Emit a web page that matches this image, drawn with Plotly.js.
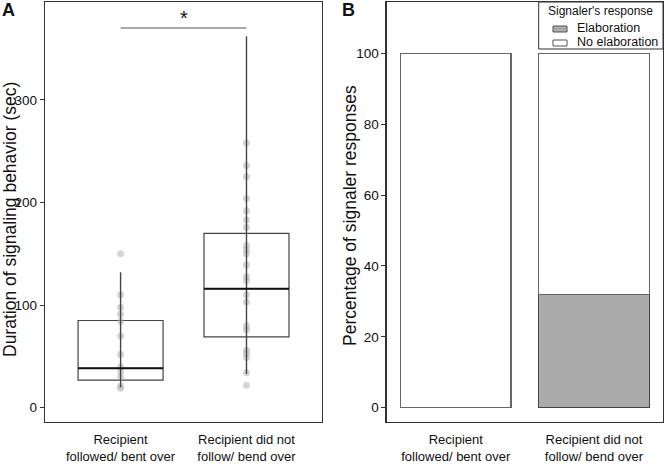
<!DOCTYPE html>
<html>
<head>
<meta charset="utf-8">
<script src="https://cdn.plot.ly/plotly-3.0.1.min.js"></script>
<style>
  html, body { margin: 0; padding: 0; background: #fff; }
  #chart { width: 664px; height: 464px; }
</style>
</head>
<body>
<div id="chart"></div>
<script>
    // groups shared by both panels
    const groups = ['Recipient<br>followed/ bent over', 'Recipient did not<br>follow/ bend over'];

    // panel A: duration of signaling behavior (sec)
    const q1 = [27, 69];
    const medians = [38.5, 116];
    const q3 = [85, 170];
    const rangeLow = [20, 33];
    const rangeHigh = [132, 362];
    const pointsFollowed = [150, 110, 98, 91, 84, 70, 52, 40, 35, 30, 21, 19];
    const pointsNotFollowed = [258, 236, 225, 204, 192, 183, 176, 158, 154, 150, 139, 128, 124,
        110, 103, 80, 76, 56, 53, 49, 34, 22];
    const sigBar = [370];

    // panel B: percentage of signaler responses
    const responses = ['Elaboration', 'No elaboration'];
    const responseColors = ['#ababab', '#ffffff'];
    const elaboration = [0, 32];
    const noElaboration = [100, 68];

    const pos = groups.map((g, i) => i);
    const boxW = 0.675;
    const font = 'Liberation Sans, Arial, sans-serif';
    const W = 664, H = 464;

    const pointX = [];
    const pointY = [];
    [pointsFollowed, pointsNotFollowed].forEach((pts, i) => {
        for (const p of pts) {
            pointX.push(i);
            pointY.push(p);
        }
    });

    const rangeX = [];
    const rangeY = [];
    const medX = [];
    const medY = [];
    pos.forEach(i => {
        rangeX.push(i, i, null);
        rangeY.push(rangeLow[i], rangeHigh[i], null);
        medX.push(i - boxW / 2, i + boxW / 2, null);
        medY.push(medians[i], medians[i], null);
    });

    const data = [
        {
            type: 'box', x: pos, q1: q1, median: medians, q3: q3,
            lowerfence: q1, upperfence: q3, width: boxW,
            fillcolor: 'rgba(0,0,0,0)', line: {color: '#444', width: 1.2},
            hoverinfo: 'skip', showlegend: false, xaxis: 'x', yaxis: 'y'
        },
        {
            type: 'scatter', mode: 'markers', x: pointX, y: pointY,
            marker: {color: '#b4b4b4', size: 7, opacity: 0.55},
            showlegend: false, xaxis: 'x', yaxis: 'y'
        },
        {
            type: 'scatter', mode: 'lines', x: rangeX, y: rangeY,
            line: {color: '#444', width: 1.4}, showlegend: false, xaxis: 'x', yaxis: 'y'
        },
        {
            type: 'scatter', mode: 'lines', x: medX, y: medY,
            line: {color: '#111', width: 2}, showlegend: false, xaxis: 'x', yaxis: 'y'
        },
        {
            type: 'scatter', mode: 'lines', x: [pos[0], pos[1]], y: [sigBar[0], sigBar[0]],
            line: {color: '#555', width: 1.1}, showlegend: false, xaxis: 'x', yaxis: 'y'
        },
        {
            type: 'bar', name: responses[0], x: pos, y: elaboration, width: 0.8,
            marker: {color: responseColors[0], line: {color: '#444', width: 1.2}},
            showlegend: false, xaxis: 'x2', yaxis: 'y2'
        },
        {
            type: 'bar', name: responses[1], x: pos, y: noElaboration, width: 0.8,
            marker: {color: responseColors[1], line: {color: '#666', width: 1.2}},
            showlegend: false, xaxis: 'x2', yaxis: 'y2'
        }
    ];

    const xCommon = {
        tickvals: pos, ticktext: groups, showgrid: false, zeroline: false,
        showline: true, mirror: true, linecolor: '#333', linewidth: 1.3,
        ticks: '', ticklabelstandoff: 5,
        tickfont: {family: font, size: 13, color: '#111'}, fixedrange: true
    };
    const yCommon = {
        showgrid: false, zeroline: false, showline: true, mirror: true,
        linecolor: '#333', linewidth: 1.3, ticks: 'outside', ticklen: 4,
        tickcolor: '#333', tickfont: {family: font, size: 13.5, color: '#111'},
        fixedrange: true
    };

    // paper coords from pixel positions
    const px = x => x / W;
    const py = y => 1 - y / H;
    const note = (text, x, y, size, extra) => Object.assign({
        text: text, xref: 'paper', yref: 'paper', x: px(x), y: py(y),
        xanchor: 'center', yanchor: 'middle', showarrow: false, borderpad: 0,
        font: {family: font, size: size, color: '#111'}
    }, extra || {});

    // hand-made legend box, tighter than plotly's own
    const shapes = [
        {type: 'rect', xref: 'paper', yref: 'paper', x0: px(538.7), x1: px(663), y0: py(49), y1: py(2),
         line: {color: '#333', width: 1}, fillcolor: '#fff'}
    ];
    const annotations = [
        note('<b>A</b>', 8, 10, 18),
        note('<b>B</b>', 348.5, 10, 18),
        note('Duration of signaling behavior (sec)', 10, 220, 17.5, {textangle: -90}),
        note('Percentage of signaler responses', 350, 216, 17.5, {textangle: -90}),
        {text: '*', xref: 'x', yref: 'y', x: (pos[0] + pos[1]) / 2, y: sigBar[0],
         xanchor: 'center', yanchor: 'bottom', yshift: -3, showarrow: false,
         font: {family: font, size: 20, color: '#111'}},
        note("Signaler's response", 600.5, 11, 12)
    ];
    responses.forEach((r, i) => {
        const cy = 29 + i * 14;
        shapes.push({type: 'rect', xref: 'paper', yref: 'paper', x0: px(553), x1: px(567),
            y0: py(cy + 3), y1: py(cy - 3), line: {color: '#555', width: 1}, fillcolor: responseColors[i]});
        annotations.push(note(r, 576, cy - 1, 12.5, {xanchor: 'left'}));
    });

    const layout = {
        width: W, height: H,
        margin: {t: 0, b: 0, l: 0, r: 0},
        paper_bgcolor: '#fff', plot_bgcolor: '#fff',
        barmode: 'stack',
        hovermode: false,
        showlegend: false,
        font: {family: font, color: '#111'},
        xaxis: Object.assign({}, xCommon, {domain: [0.0678, 0.485], range: [-0.6, 1.6], anchor: 'y'}),
        yaxis: Object.assign({}, yCommon, {
            domain: [0.0905, 0.9957], range: [-13.9, 395.4], anchor: 'x',
            tickvals: [0, 100, 200, 300]
        }),
        xaxis2: Object.assign({}, xCommon, {domain: [0.5824, 0.9985], range: [-0.5, 1.5], anchor: 'y2'}),
        yaxis2: Object.assign({}, yCommon, {
            domain: [0.0905, 0.9957], range: [-4.03, 114.5], anchor: 'x2',
            tickvals: [0, 20, 40, 60, 80, 100]
        }),
        shapes: shapes,
        annotations: annotations
    };

    Plotly.newPlot('chart', data, layout, {displayModeBar: false, staticPlot: true});
</script>
</body>
</html>
